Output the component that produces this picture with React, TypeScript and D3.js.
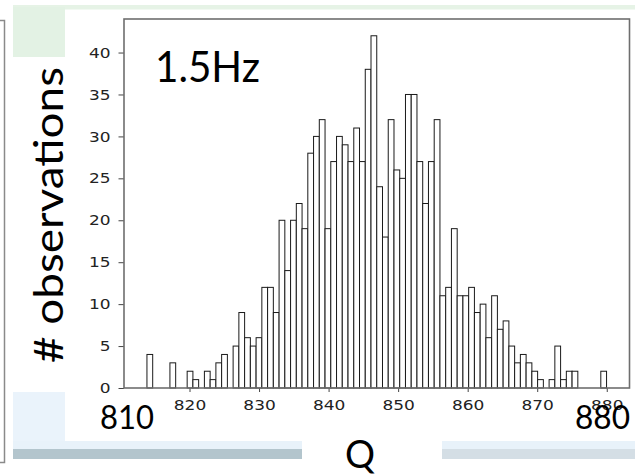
import React, { useEffect, useRef } from "react";
import * as d3 from "d3";

// histogram of Q at 1.5Hz, 80 equal bins between qMin and qMax
const qMin = 813.88;
const qMax = 879.97;
const counts = [
  4, 0, 0, 0, 3, 0, 0, 2, 1, 0, 2, 1, 3, 4, 0, 5, 9, 6, 5, 6,
  12, 12, 9, 20, 14, 20, 22, 19, 28, 30, 32, 19, 27, 30, 29, 27, 31, 27, 38, 42,
  24, 18, 32, 26, 25, 35, 35, 27, 22, 27, 32, 11, 12, 19, 11, 11, 12, 9, 10, 6,
  11, 7, 8, 5, 3, 4, 3, 2, 1, 0, 1, 5, 1, 2, 2, 0, 0, 0, 0, 2,
];
const xTicks = [820, 830, 840, 850, 860, 870, 880];
const yTicks = [0, 5, 10, 15, 20, 25, 30, 35, 40];
const xDomain = [810.58, 883.27];
const yDomain = [0, 44];

const slideFont = "Lato, 'Open Sans', sans-serif";

export default function App() {
  const ref = useRef<SVGSVGElement>(null);

  useEffect(() => {
    const svg = d3.select(ref.current);
    svg.selectAll("*").remove();

    const W = 635;
    const H = 475;
    const plot = { left: 124, right: 629.5, top: 19, bottom: 388 };

    // slide decorations around the pasted figure
    svg.append("rect").attr("width", W).attr("height", H).attr("fill", "#fff");
    svg.append("rect").attr("x", 13).attr("y", 5).attr("width", W - 13).attr("height", 4.5).attr("fill", "#e6f3e6");
    svg.append("rect").attr("x", 13).attr("y", 7).attr("width", 52).attr("height", 50).attr("fill", "#e3f2e4");
    svg.append("rect").attr("x", 13).attr("y", 392).attr("width", 52).attr("height", 50).attr("fill", "#eaf3fb");
    svg.append("rect").attr("x", 13).attr("y", 441).attr("width", 289).attr("height", 8).attr("fill", "#e8f2fa");
    svg.append("rect").attr("x", 13).attr("y", 449).attr("width", 289).attr("height", 10).attr("fill", "#b3c5cd");
    svg.append("rect").attr("x", 442).attr("y", 441).attr("width", W - 442).attr("height", 8).attr("fill", "#e8f2fa");
    svg.append("rect").attr("x", 442).attr("y", 449).attr("width", W - 442).attr("height", 10).attr("fill", "#d4dee5");
    svg
      .append("path")
      .attr("d", "M0,20.5H4.5V462.5H0")
      .attr("fill", "none")
      .attr("stroke", "#8a8a8a")
      .attr("stroke-width", 1.5);

    const x = d3.scaleLinear().domain(xDomain).range([plot.left, plot.right]);
    const y = d3.scaleLinear().domain(yDomain).range([plot.bottom, plot.top]);

    const binW = (qMax - qMin) / counts.length;
    const bins = counts.map((c, i) => ({ x0: qMin + i * binW, x1: qMin + (i + 1) * binW, c }));

    const g = svg.append("g");
    g.selectAll("rect.bar")
      .data(bins.filter((b) => b.c > 0))
      .enter()
      .append("rect")
      .attr("class", "bar")
      .attr("x", (d) => x(d.x0))
      .attr("width", (d) => x(d.x1) - x(d.x0))
      .attr("y", (d) => y(d.c))
      .attr("height", (d) => y(0) - y(d.c))
      .attr("fill", "#fff")
      .attr("stroke", "#1a1a1a")
      .attr("stroke-width", 1);

    // axes
    const xAxis = d3.axisBottom(x).tickValues(xTicks).tickSize(4).tickPadding(8).tickFormat(d3.format("d"));
    const xAxisG = g.append("g").attr("transform", `translate(0,${plot.bottom})`).call(xAxis);
    xAxisG.select(".domain").remove();

    const yAxis = d3.axisLeft(y).tickValues(yTicks).tickSize(5.5).tickPadding(6).tickFormat(d3.format("d"));
    const yAxisG = g.append("g").attr("transform", `translate(${plot.left},0)`).call(yAxis);
    yAxisG.select(".domain").remove();

    [xAxisG, yAxisG].forEach((ax) => {
      ax.selectAll("line").attr("stroke", "#444").attr("stroke-width", 1);
      ax.selectAll("text")
        .attr("fill", "#222")
        .style("font-family", "'DejaVu Sans', sans-serif")
        .style("font-size", "14.5px");
    });
    xAxisG.selectAll("text").attr("transform", "scale(1.17,1)");
    yAxisG.selectAll("text").attr("transform", "scale(1.17,1)");

    g.append("rect")
      .attr("x", plot.left)
      .attr("y", plot.top)
      .attr("width", plot.right - plot.left)
      .attr("height", plot.bottom - plot.top)
      .attr("fill", "none")
      .attr("stroke", "#6e6e6e")
      .attr("stroke-width", 1.6);

    // slide text
    const txt = (s: string, tx: number, ty: number, size: number, len: number, anchor = "start") =>
      svg
        .append("text")
        .attr("x", tx)
        .attr("y", ty)
        .attr("text-anchor", anchor)
        .attr("textLength", len)
        .attr("lengthAdjust", "spacingAndGlyphs")
        .style("font-family", slideFont)
        .style("font-size", `${size}px`)
        .attr("fill", "#000")
        .text(s);

    txt("1.5Hz", 155, 82, 42, 105);
    txt("810", 100, 429, 33, 54);
    txt("880", 575, 429, 33, 55);
    txt("Q", 360, 468, 39, 30, "middle");

    svg
      .append("text")
      .attr("transform", "translate(63,215) rotate(-90)")
      .attr("text-anchor", "middle")
      .attr("textLength", 296)
      .attr("lengthAdjust", "spacingAndGlyphs")
      .style("font-family", slideFont)
      .style("font-size", "40px")
      .attr("fill", "#000")
      .text("# observations");
  }, []);

  return (
    <svg
      ref={ref}
      width={635}
      height={475}
      style={{ position: "absolute", left: 0, top: 0, display: "block" }}
    />
  );
}
